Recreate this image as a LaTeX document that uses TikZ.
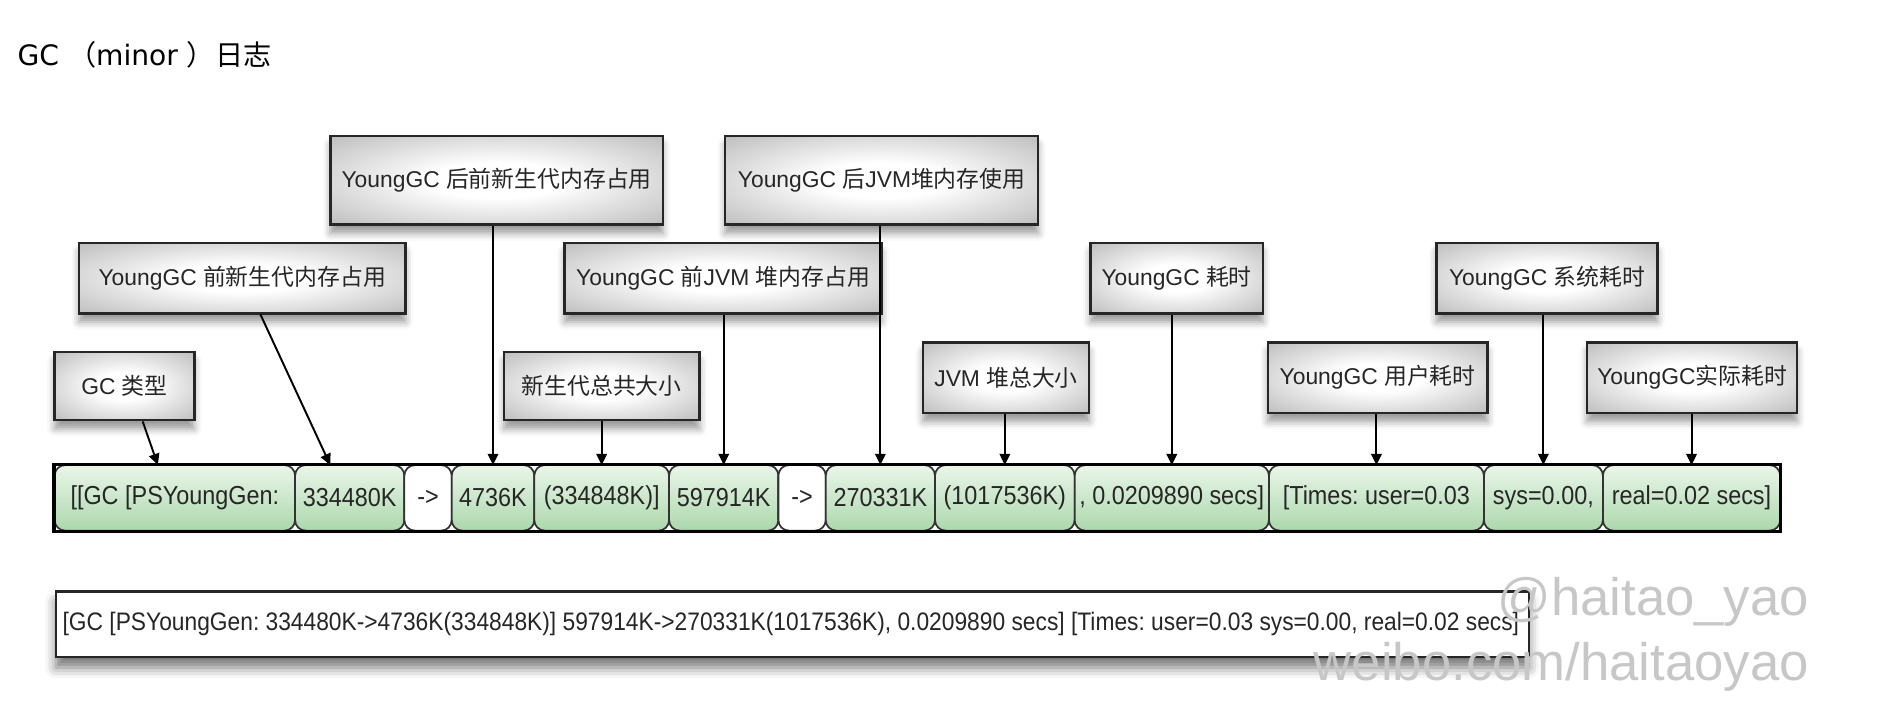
\documentclass[tikz,border=0pt]{standalone}
\usepackage{fontspec}
\setmainfont{Liberation Sans}
\newfontfamily\cjk{Noto Sans CJK SC}
\newfontfamily\titlefont{DejaVu Sans}
\newfontfamily\logfont[FakeStretch=0.9]{Liberation Sans}
\usetikzlibrary{arrows.meta, positioning, fit, backgrounds, calc, shadows.blur}
\newlength\pxu
\setlength\pxu{0.1214mm}
\definecolor{celltop}{RGB}{234,246,234}
\definecolor{cellbot}{RGB}{172,216,172}
\pgfdeclareradialshading{lblshade}{\pgfpoint{0bp}{0bp}}{%
  color(0bp)=(white); color(10bp)=(white); color(42bp)=(black!32);
  color(58bp)=(black!46); color(71bp)=(black!52)}
\frenchspacing

\begin{document}
\begin{tikzpicture}[
  x=0.1214mm, y=-0.1214mm,
  every node/.style={font=\fontsize{6.5}{8}\selectfont, text=black!85},
  lbl/.style={rectangle, draw=black!85, line width=0.7pt, shading=lblshade,
    minimum height=58\pxu, inner sep=0pt,
    blur shadow={shadow xshift=0pt, shadow yshift=-2.5pt, shadow opacity=40}},
  cell/.style={rectangle, rounded corners=3pt, draw=black!80, line width=0.5pt, outer sep=0pt,
    top color=celltop, bottom color=cellbot, minimum height=54\pxu, inner sep=0pt,
    font=\logfont\fontsize{7.4}{8}\selectfont},
  arrowcell/.style={cell, top color=white, bottom color=white},
  arr/.style={-{Triangle[length=3.2pt, width=3pt]}, line width=0.55pt, black}
]
\useasboundingbox (0,0) rectangle (1568,595);

% ---- TITLE ----
\node[anchor=base west, inner sep=0pt, font=\titlefont\fontsize{8}{10}\selectfont, text=black] (title) at (14,54)
  {GC {\cjk （}minor {\cjk ）日志}};

% ---- LOG CELLS ----
\node[cell, minimum width=198\pxu, anchor=west] (c1) at (45,410) {[[GC [PSYoungGen:};
\node[cell, minimum width=90\pxu, right=0pt of c1] (c2) {334480K};
\node[arrowcell, minimum width=39\pxu, right=0pt of c2] (c3) {->};
\node[cell, minimum width=68\pxu, right=0pt of c3] (c4) {4736K};
\node[cell, minimum width=111\pxu, right=0pt of c4] (c5) {(334848K)]};
\node[cell, minimum width=90\pxu, right=0pt of c5] (c6) {597914K};
\node[arrowcell, minimum width=39\pxu, right=0pt of c6] (c7) {->};
\node[cell, minimum width=90\pxu, right=0pt of c7] (c8) {270331K};
\node[cell, minimum width=115\pxu, right=0pt of c8] (c9) {(1017536K)};
\node[cell, minimum width=160\pxu, right=0pt of c9] (c10) {, 0.0209890 secs]};
\node[cell, minimum width=177\pxu, right=0pt of c10] (c11) {[Times: user=0.03};
\node[cell, minimum width=98\pxu, right=0pt of c11] (c12) {sys=0.00,};
\node[cell, minimum width=146\pxu, right=0pt of c12] (c13) {real=0.02 secs]};

\begin{scope}[on background layer]
  \node[fit=(c1)(c13), inner sep=0pt, fill=white,
    blur shadow={shadow xshift=0pt, shadow yshift=-4pt, shadow blur radius=4pt, shadow opacity=85}] (bar) {};
\end{scope}
\draw[line width=0.9pt] (bar.north west) rectangle (bar.south east);

% ---- LABELS ----
\node[lbl, minimum width=115\pxu, minimum height=56\pxu] (gcType) at (102.5,318) {GC {\cjk 类型}};
\node[lbl, minimum width=269\pxu] (youngBefore) at (199.5,229) {YoungGC {\cjk 前新生代内存占用}};
\node[lbl, minimum width=274\pxu, minimum height=73\pxu] (youngAfter) at (409,148.5) {YoungGC {\cjk 后前新生代内存占用}};
\node[lbl, minimum width=161\pxu, minimum height=56\pxu] (youngTotal) at (495.5,318) {{\cjk 新生代总共大小}};
\node[lbl, minimum width=261\pxu] (heapBefore) at (595.5,229) {YoungGC {\cjk 前}JVM {\cjk 堆内存占用}};
\node[lbl, minimum width=258\pxu, minimum height=73\pxu] (heapAfter) at (726,148.5) {YoungGC {\cjk 后}JVM{\cjk 堆内存使用}};
\node[lbl, minimum width=137\pxu] (heapTotal) at (828.5,311) {JVM {\cjk 堆总大小}};
\node[lbl, minimum width=142\pxu] (gcTime) at (969,229) {YoungGC {\cjk 耗时}};
\node[lbl, minimum width=181\pxu] (userTime) at (1134.5,311) {YoungGC {\cjk 用户耗时}};
\node[lbl, minimum width=182\pxu] (sysTime) at (1274,229) {YoungGC {\cjk 系统耗时}};
\node[lbl, minimum width=173\pxu] (realTime) at (1393.5,311) {YoungGC{\cjk 实际耗时}};

% ---- ARROWS ----
\draw[arr] ($(gcType.south)+(15,0)$) -- ($(c1.north)+(-14,0)$);
\draw[arr] ($(youngBefore.south)+(15,0)$) -- ($(c2.north)+(-16,0)$);
\draw[arr] (c4.north |- youngAfter.south) -- (c4.north);
\draw[arr] (c5.north |- youngTotal.south) -- (c5.north);
\draw[arr] (c6.north |- heapBefore.south) -- (c6.north);
\draw[arr] (c8.north |- heapAfter.south) -- (c8.north);
\draw[arr] (c9.north |- heapTotal.south) -- (c9.north);
\draw[arr] (c10.north |- gcTime.south) -- (c10.north);
\draw[arr] (c11.north |- userTime.south) -- (c11.north);
\draw[arr] (c12.north |- sysTime.south) -- (c12.north);
\draw[arr] (c13.north |- realTime.south) -- (c13.north);

% ---- FULL LINE ----
\node[rectangle, draw=black!85, line width=0.7pt, fill=white, anchor=north west,
  minimum height=54\pxu, minimum width=1213\pxu,
  blur shadow={shadow xshift=0pt, shadow yshift=-3pt, shadow blur radius=3pt, shadow opacity=55}] (logLine) at (45,486) {};
\node[anchor=west, inner sep=0pt, font=\logfont\fontsize{7.2}{8}\selectfont] (logText) at ($(logLine.west)+(6,0)$)
  {[GC [PSYoungGen: 334480K->4736K(334848K)] 597914K->270331K(1017536K), 0.0209890 secs] [Times: user=0.03 sys=0.00, real=0.02 secs]};

% ---- WATERMARK ----
\node[anchor=base east, font=\fontsize{15}{18}\selectfont, text=black!22] (wmName) at (1500,507) {@haitao\_yao};
\node[anchor=base east, font=\fontsize{15}{18}\selectfont, text=black!22] (wmSite) at (1500,560) {weibo.com/haitaoyao};
\end{tikzpicture}
\end{document}
